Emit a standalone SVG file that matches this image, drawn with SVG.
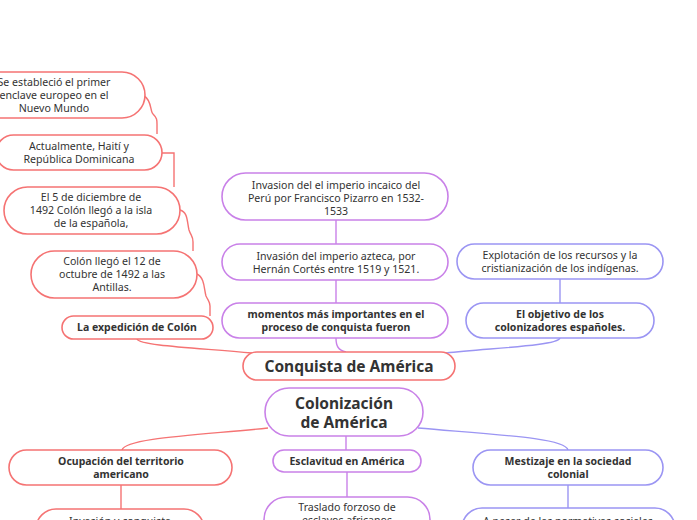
<svg xmlns="http://www.w3.org/2000/svg" width="697" height="520" viewBox="0 0 697 520">
<style>
text{font-family:"Noto Sans","Liberation Sans",sans-serif;fill:#333;text-anchor:middle}
.t{font-size:10.6px}
.b{font-size:10.5px;font-weight:bold}
.h{font-size:15.5px;font-weight:bold}
.r{fill:#fff;stroke:#f57373;stroke-width:1.6}
.p{fill:#fff;stroke:#c981e8;stroke-width:1.6}
.u{fill:#fff;stroke:#9b95f3;stroke-width:1.6}
.lr{fill:none;stroke:#f57373;stroke-width:1.4}
.lp{fill:none;stroke:#c981e8;stroke-width:1.4}
.lu{fill:none;stroke:#9b95f3;stroke-width:1.4}
</style>
<rect width="697" height="520" fill="#fff"/>
<g id="connectors">
<path class="lr" d="M144 96 C152 100,150 112,153 114 C157 118,157 120,157 124 L157 134"/>
<path class="lr" d="M162 153 L174 153 L174 187"/>
<path class="lr" d="M180 210 C188 212,187 222,189 230 C191 236,193 236,193 242 L193 251"/>
<path class="lr" d="M197 274 C205 278,204 290,206 296 C209 302,210 302,210 306 L210 316"/>
<path class="lr" d="M137 339 C140 346,200 348,252 353"/>
<path class="lp" d="M336 220 L336 244 M336 280 L336 303"/>
<path class="lp" d="M336 338 C336 346,338 350,346 352"/>
<path class="lu" d="M560 279 L560 303"/>
<path class="lu" d="M560 338 C558 346,490 348,446 353"/>
<path class="lr" d="M268 428 C200 435,125 438,122 450"/>
<path class="lp" d="M346 436 L346 450"/>
<path class="lu" d="M418 428 C500 435,565 438,568 450"/>
<path class="lr" d="M121 485 L121 509"/>
<path class="lp" d="M347 472 L347 497"/>
<path class="lu" d="M568 485 L568 508"/>
</g>
<g id="n-enclave"><rect class="r" x="-37" y="72" width="182" height="46" rx="23"/>
<text class="t" x="54" y="86">Se estableció el primer</text><text class="t" x="54" y="99">enclave europeo en el</text><text class="t" x="54" y="112">Nuevo Mundo</text></g>
<g id="n-haiti"><rect class="r" x="-4" y="135" width="166" height="35" rx="17.5"/>
<text class="t" x="79" y="150">Actualmente, Haití y</text><text class="t" x="79" y="163">República Dominicana</text></g>
<g id="n-diciembre"><rect class="r" x="4" y="187" width="176" height="47" rx="23.5"/>
<text class="t" x="91" y="201">El 5 de diciembre de</text><text class="t" x="91" y="214">1492 Colón llegó a la isla</text><text class="t" x="91" y="227">de la española,</text></g>
<g id="n-octubre"><rect class="r" x="31" y="251" width="166" height="47" rx="23.5"/>
<text class="t" x="112" y="265">Colón llegó el 12 de</text><text class="t" x="112" y="278">octubre de 1492 a las</text><text class="t" x="112" y="291">Antillas.</text></g>
<g id="n-expedicion"><rect class="r" x="62" y="316" width="151" height="23" rx="11.5"/>
<text class="b" x="137" y="331">La expedición de Colón</text></g>
<g id="n-incaico"><rect class="p" x="222" y="173" width="226" height="47" rx="23.5"/>
<text class="t" x="336" y="189">Invasion del el imperio incaico del</text><text class="t" x="336" y="202">Perú por Francisco Pizarro en 1532-</text><text class="t" x="336" y="215">1533</text></g>
<g id="n-azteca"><rect class="p" x="222" y="244" width="226" height="36" rx="18"/>
<text class="t" x="336" y="260">Invasión del imperio azteca, por</text><text class="t" x="336" y="273">Hernán Cortés entre 1519 y 1521.</text></g>
<g id="n-momentos"><rect class="p" x="222" y="303" width="226" height="35" rx="17.5"/>
<text class="b" x="336" y="318">momentos más importantes en el</text><text class="b" x="336" y="331">proceso de conquista fueron</text></g>
<g id="n-explotacion"><rect class="u" x="457" y="244" width="206" height="35" rx="17.5"/>
<text class="t" x="560" y="259">Explotación de los recursos y la</text><text class="t" x="560" y="272">cristianización de los indígenas.</text></g>
<g id="n-objetivo"><rect class="u" x="466" y="303" width="188" height="35" rx="17.5"/>
<text class="b" x="560" y="318">El objetivo de los</text><text class="b" x="560" y="331">colonizadores españoles.</text></g>
<g id="n-conquista"><rect class="r" x="243" y="352" width="212" height="28" rx="14"/>
<text class="h" x="349" y="372">Conquista de América</text></g>
<g id="n-colonizacion"><rect class="p" x="265" y="388" width="158" height="48" rx="24"/>
<text class="h" x="344" y="409">Colonización</text><text class="h" x="344" y="428">de América</text></g>
<g id="n-ocupacion"><rect class="r" x="9" y="450" width="223" height="35" rx="17.5"/>
<text class="b" x="121" y="465">Ocupación del territorio</text><text class="b" x="121" y="478">americano</text></g>
<g id="n-invasion"><rect class="r" x="36" y="509" width="168" height="40" rx="20"/>
<text class="t" x="120" y="525">Invasión y conquista</text></g>
<g id="n-esclavitud"><rect class="p" x="273" y="450" width="148" height="22" rx="11"/>
<text class="b" x="347" y="465">Esclavitud en América</text></g>
<g id="n-traslado"><rect class="p" x="264" y="497" width="166" height="45" rx="22.5"/>
<text class="t" x="347" y="511">Traslado forzoso de</text><text class="t" x="347" y="524">esclavos africanos</text></g>
<g id="n-mestizaje"><rect class="u" x="473" y="450" width="190" height="35" rx="17.5"/>
<text class="b" x="568" y="465">Mestizaje en la sociedad</text><text class="b" x="568" y="478">colonial</text></g>
<g id="n-pesar"><rect class="u" x="462" y="508" width="213" height="40" rx="20"/>
<text class="t" x="568" y="525">A pesar de las normativas sociales</text></g>
</svg>
